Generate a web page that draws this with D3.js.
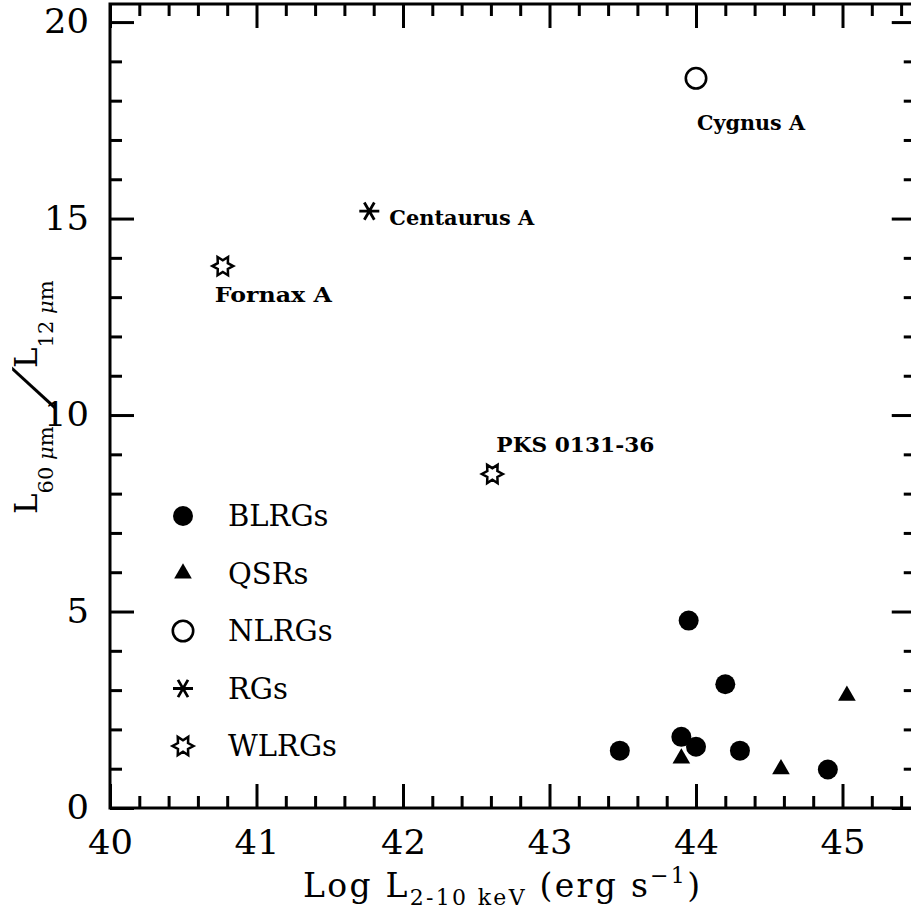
<!DOCTYPE html>
<html>
<head>
<meta charset="utf-8">
<script src="https://cdn.jsdelivr.net/npm/d3@7"></script>
<style>
  body { margin: 0; background: #fff; }
  svg { display: block; }
  .axis line { stroke: #000; stroke-width: 3; }
  .axis .domain { display: none; }
  .axis text { font-family: "DejaVu Serif", serif; font-size: 34px; fill: #000; }
  .ann { font-family: "DejaVu Serif", serif; font-weight: bold; font-size: 19.5px; }
  .leg { font-family: "DejaVu Serif", serif; font-size: 29px; }
</style>
</head>
<body>
<svg id="main"></svg>
<script>
// data
var blrgX = [43.48, 43.95, 44.20, 43.90, 44.00, 44.30, 44.90];
var blrgY = [1.46, 4.77, 3.15, 1.81, 1.56, 1.46, 0.98];
var qsrX = [43.90, 44.58, 45.03];
var qsrY = [1.26, 0.99, 2.86];
var nlrgX = [44.00];
var nlrgY = [18.57];
var nlrgName = ["Cygnus A"];
var rgX = [41.77];
var rgY = [15.19];
var rgName = ["Centaurus A"];
var wlrgX = [40.77, 42.61];
var wlrgY = [13.79, 8.50];
var wlrgName = ["Fornax A", "PKS 0131-36"];

var legendNames = ["BLRGs", "QSRs", "NLRGs", "RGs", "WLRGs"];
var xMajor = [40, 41, 42, 43, 44, 45];
var yMajor = [0, 5, 10, 15, 20];

// label placement relative to its marker: dx, dy, width (px)
var annLayout = {
  "Cygnus A": [1, 52, 108],
  "Centaurus A": [20, 14, 145],
  "Fornax A": [-8, 36, 117],
  "PKS 0131-36": [4, -22, 158]
};

var W = 911, H = 916;
var svg = d3.select("#main").attr("width", W).attr("height", H);

var x = d3.scaleLinear().domain([40, 45.5]).range([110, 915.75]);
var y = d3.scaleLinear().domain([0, 20.46]).range([808, 4]);

var xMinor = d3.range(40, 45.5, 0.2).filter(function(v){ return Math.abs(v - Math.round(v)) > 1e-6; });
var yMinor = d3.range(0, 20.5, 1).filter(function(v){ return v % 5 !== 0; });

function axisG(axis, tx, ty) {
  svg.append("g").attr("class", "axis")
    .attr("transform", "translate(" + tx + "," + ty + ")")
    .call(axis);
}

// major ticks (with labels on bottom and left)
axisG(d3.axisBottom(x).tickValues(xMajor).tickSize(-24).tickSizeOuter(0).tickPadding(22).tickFormat(d3.format("d")), 0, y(0));
axisG(d3.axisTop(x).tickValues(xMajor).tickSize(-24).tickSizeOuter(0).tickFormat(""), 0, y.range()[1]);
axisG(d3.axisLeft(y).tickValues(yMajor).tickSize(-24).tickSizeOuter(0).tickPadding(21).tickFormat(d3.format("d")), x(40), 0);
axisG(d3.axisRight(y).tickValues(yMajor).tickSize(-24).tickSizeOuter(0).tickFormat(""), x.range()[1], 0);
// minor ticks
axisG(d3.axisBottom(x).tickValues(xMinor).tickSize(-12).tickSizeOuter(0).tickFormat(""), 0, y(0));
axisG(d3.axisTop(x).tickValues(xMinor).tickSize(-12).tickSizeOuter(0).tickFormat(""), 0, y.range()[1]);
axisG(d3.axisLeft(y).tickValues(yMinor).tickSize(-12).tickSizeOuter(0).tickFormat(""), x(40), 0);
axisG(d3.axisRight(y).tickValues(yMinor).tickSize(-12).tickSizeOuter(0).tickFormat(""), x.range()[1], 0);

svg.selectAll(".axis text").attr("textLength", function(){ return this.textContent.length * 22.5; })
  .attr("lengthAdjust", "spacingAndGlyphs");

// frame
svg.append("rect")
  .attr("x", x.range()[0]).attr("y", y.range()[1])
  .attr("width", x.range()[1] - x.range()[0])
  .attr("height", y.range()[0] - y.range()[1])
  .attr("fill", "none").attr("stroke", "#000").attr("stroke-width", 3);

// marker shapes
function starPath(R, r) {
  var pts = [];
  for (var i = 0; i < 12; i++) {
    var a = i * Math.PI / 6, rr = i % 2 ? r : R;
    pts.push([rr * Math.cos(a), -rr * Math.sin(a)]);
  }
  return d3.line().curve(d3.curveLinearClosed)(pts);
}
function asteriskPath(R) {
  var p = d3.path();
  for (var i = 0; i < 3; i++) {
    var a = i * Math.PI / 3;
    p.moveTo(R * Math.cos(a), -R * Math.sin(a));
    p.lineTo(-R * Math.cos(a), R * Math.sin(a));
  }
  return p.toString();
}

var drawers = {
  BLRGs: function(g){ g.append("circle").attr("r", 10).attr("fill", "#000"); },
  QSRs: function(g){ g.append("path").attr("d", d3.symbol(d3.symbolTriangle, 135)()).attr("fill", "#000"); },
  NLRGs: function(g){ g.append("circle").attr("r", 10.2).attr("fill", "none").attr("stroke", "#000").attr("stroke-width", 2.6); },
  RGs: function(g){ g.append("path").attr("d", asteriskPath(10)).attr("fill", "none").attr("stroke", "#000").attr("stroke-width", 2.8); },
  WLRGs: function(g){ g.append("path").attr("d", starPath(10.5, 5.8)).attr("fill", "none").attr("stroke", "#000").attr("stroke-width", 2.5).attr("stroke-linejoin", "miter"); }
};

function plotSeries(kind, xs, ys, names) {
  var pts = xs.map(function(v, i){ return { x: v, y: ys[i], name: names ? names[i] : null }; });
  var g = svg.append("g").selectAll("g").data(pts).enter().append("g")
    .attr("transform", function(d){ return "translate(" + x(d.x) + "," + y(d.y) + ")"; });
  g.each(function(){ drawers[kind](d3.select(this)); });
  g.filter(function(d){ return d.name; }).append("text")
    .attr("class", "ann")
    .attr("x", function(d){ return annLayout[d.name][0]; })
    .attr("y", function(d){ return annLayout[d.name][1]; })
    .attr("textLength", function(d){ return annLayout[d.name][2]; })
    .attr("lengthAdjust", "spacingAndGlyphs")
    .text(function(d){ return d.name; });
}

plotSeries("BLRGs", blrgX, blrgY);
plotSeries("QSRs", qsrX, qsrY);
plotSeries("NLRGs", nlrgX, nlrgY, nlrgName);
plotSeries("RGs", rgX, rgY, rgName);
plotSeries("WLRGs", wlrgX, wlrgY, wlrgName);

// legend
var leg = svg.append("g").selectAll("g").data(legendNames).enter().append("g")
  .attr("transform", function(d, i){ return "translate(183," + (516 + i * 57.5) + ")"; });
leg.each(function(d){ drawers[d](d3.select(this)); });
leg.append("text").attr("class", "leg").attr("x", 45).attr("dy", "0.36em").text(function(d){ return d; });

// x axis title
var xt = svg.append("text")
  .attr("x", 303).attr("y", 897)
  .attr("textLength", 397).attr("lengthAdjust", "spacing")
  .style("font-family", "DejaVu Serif, serif").style("font-size", "33px");
xt.append("tspan").text("Log L");
xt.append("tspan").attr("dy", 8).style("font-size", "22px").text("2-10 keV");
xt.append("tspan").attr("dy", -8).text(" (erg s");
xt.append("tspan").attr("dy", -14).style("font-size", "22px").text("\u22121");
xt.append("tspan").attr("dy", 14).text(")");

// y axis title (rotated)
var yt = svg.append("g").attr("transform", "rotate(-90)")
  .style("font-family", "DejaVu Serif, serif");
function ratioPart(tx, sub) {
  var t = yt.append("text").attr("x", tx).attr("y", 37).style("font-size", "31px");
  t.append("tspan").text("L");
  var s = t.append("tspan").attr("dy", 16).style("font-size", "21px");
  s.append("tspan").text(sub + " ");
  s.append("tspan").style("font-style", "italic").text("\u03bc");
  s.append("tspan").text("m");
}
ratioPart(-514, "60");
ratioPart(-368, "12");
yt.append("text")
  .attr("transform", "translate(-398,50) skewX(-31)")
  .attr("text-anchor", "middle")
  .style("font-size", "52px")
  .text("/");
</script>
</body>
</html>
